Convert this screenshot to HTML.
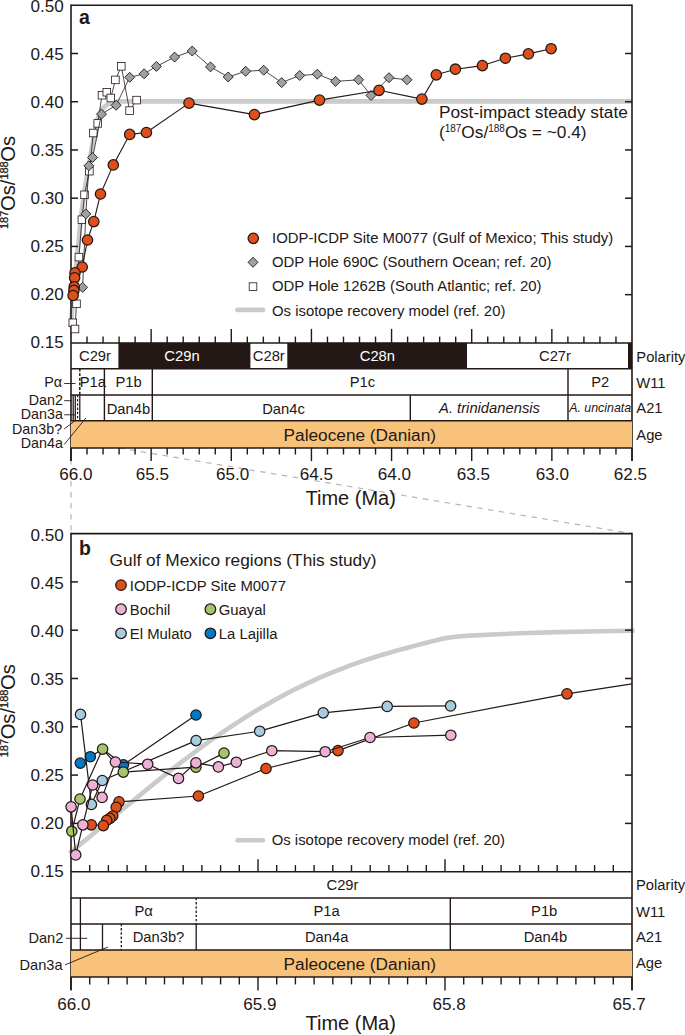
<!DOCTYPE html>
<html><head><meta charset="utf-8"><title>Os isotope recovery</title>
<style>
html,body{margin:0;padding:0;background:#fff;}
svg{display:block;font-family:'Liberation Sans', sans-serif;}
</style></head><body>
<svg width="685" height="1035" viewBox="0 0 685 1035">
<rect width="685" height="1035" fill="#fff"/>
<line x1="71.00" y1="448.00" x2="71.00" y2="533.60" stroke="#B5B5B6" stroke-width="1.2" stroke-dasharray="5.5,5.5"/>
<line x1="119.09" y1="448.00" x2="632.00" y2="533.60" stroke="#B5B5B6" stroke-width="1.2" stroke-dasharray="5.5,5.5"/>
<path d="M70.8,327 L71.8,314 L75.3,275 L78.6,242.6 L81.1,215.8 L85.1,187 L92.1,146.3 L97.3,119.7 L101.6,110.1 L104.5,106.6 L107.6,104.4 L111,102.9 L115,101.9 L121,101.3 L632.0,101.3" fill="none" stroke="#C9CACA" stroke-width="4.8" stroke-linejoin="round"/>
<path d="M71.0,5.25 H632.0" stroke="#231815" stroke-width="1.6" fill="none"/>
<line x1="71.00" y1="4.45" x2="71.00" y2="461.00" stroke="#231815" stroke-width="1.6" />
<line x1="632.00" y1="4.45" x2="632.00" y2="461.00" stroke="#231815" stroke-width="1.6" />
<text x="63.80" y="12.00" font-size="17.1" text-anchor="end" fill="#231815" >0.50</text>
<line x1="71.00" y1="53.49" x2="78.00" y2="53.49" stroke="#231815" stroke-width="1.5" />
<line x1="625.00" y1="53.49" x2="632.00" y2="53.49" stroke="#231815" stroke-width="1.5" />
<text x="63.80" y="59.95" font-size="17.1" text-anchor="end" fill="#231815" >0.45</text>
<line x1="71.00" y1="101.72" x2="78.00" y2="101.72" stroke="#231815" stroke-width="1.5" />
<line x1="625.00" y1="101.72" x2="632.00" y2="101.72" stroke="#231815" stroke-width="1.5" />
<text x="63.80" y="107.90" font-size="17.1" text-anchor="end" fill="#231815" >0.40</text>
<line x1="71.00" y1="149.96" x2="78.00" y2="149.96" stroke="#231815" stroke-width="1.5" />
<line x1="625.00" y1="149.96" x2="632.00" y2="149.96" stroke="#231815" stroke-width="1.5" />
<text x="63.80" y="155.85" font-size="17.1" text-anchor="end" fill="#231815" >0.35</text>
<line x1="71.00" y1="198.19" x2="78.00" y2="198.19" stroke="#231815" stroke-width="1.5" />
<line x1="625.00" y1="198.19" x2="632.00" y2="198.19" stroke="#231815" stroke-width="1.5" />
<text x="63.80" y="203.80" font-size="17.1" text-anchor="end" fill="#231815" >0.30</text>
<line x1="71.00" y1="246.43" x2="78.00" y2="246.43" stroke="#231815" stroke-width="1.5" />
<line x1="625.00" y1="246.43" x2="632.00" y2="246.43" stroke="#231815" stroke-width="1.5" />
<text x="63.80" y="251.75" font-size="17.1" text-anchor="end" fill="#231815" >0.25</text>
<line x1="71.00" y1="294.66" x2="78.00" y2="294.66" stroke="#231815" stroke-width="1.5" />
<line x1="625.00" y1="294.66" x2="632.00" y2="294.66" stroke="#231815" stroke-width="1.5" />
<text x="63.80" y="299.70" font-size="17.1" text-anchor="end" fill="#231815" >0.20</text>
<text x="63.80" y="347.65" font-size="17.1" text-anchor="end" fill="#231815" >0.15</text>
<g transform="translate(15.0,229.0) rotate(-90)" fill="#231815">
<text transform="translate(0.00,-6.9) scale(1.0,1)" font-size="11.0" stroke="#231815" stroke-width="0.3">187</text>
<text x="17.95" y="0" font-size="20.2">Os/</text>
<text transform="translate(49.38,-6.9) scale(1.0,1)" font-size="11.0" stroke="#231815" stroke-width="0.3">188</text>
<text x="67.33" y="0" font-size="20.2">Os</text>
</g>
<text x="79.00" y="24.20" font-size="19.5" text-anchor="start" fill="#231815" font-weight="bold">a</text>
<text x="438.90" y="118.40" font-size="17.25" text-anchor="start" fill="#231815" >Post-impact steady state</text>
<text x="438.9" y="138.3" font-size="17.3" fill="#231815">(<tspan font-size="10" dy="-6">187</tspan><tspan dy="6">Os/</tspan><tspan font-size="10" dy="-6">188</tspan><tspan dy="6">Os = ~0.4)</tspan></text>
<circle cx="253.3" cy="238.3" r="5.2" fill="#DD4F1B" stroke="#231815" stroke-width="1.25"/>
<path d="M253.0,257.3 L258.0,262.3 L253.0,267.3 L248.0,262.3 Z" fill="#9FA0A0" stroke="#231815" stroke-width="0.9"/>
<rect x="249.2" y="282.8" width="7.6" height="7.6" fill="#fff" stroke="#231815" stroke-width="0.8"/>
<line x1="237.5" y1="309.9" x2="263" y2="309.9" stroke="#C9CACA" stroke-width="4.6" stroke-linecap="round"/>
<text x="272.00" y="242.80" font-size="14.9" text-anchor="start" fill="#231815" >IODP-ICDP Site M0077 (Gulf of Mexico; This study)</text>
<text x="272.00" y="266.90" font-size="14.9" text-anchor="start" fill="#231815" >ODP Hole 690C (Southern Ocean; ref. 20)</text>
<text x="272.00" y="291.20" font-size="14.9" text-anchor="start" fill="#231815" >ODP Hole 1262B (South Atlantic; ref. 20)</text>
<text x="272.00" y="315.60" font-size="14.9" text-anchor="start" fill="#231815" >Os isotope recovery model (ref. 20)</text>
<rect x="71.0" y="420.8" width="561.0" height="27.099999999999966" fill="#F8C27A"/>
<rect x="118.4" y="342.9" width="132.0" height="25.80000000000001" fill="#231815"/>
<rect x="287.3" y="342.9" width="179.7" height="25.80000000000001" fill="#231815"/>
<rect x="628" y="342.9" width="4.0" height="25.80000000000001" fill="#231815"/>
<line x1="71.00" y1="342.90" x2="632.00" y2="342.90" stroke="#231815" stroke-width="1.5" />
<line x1="71.00" y1="368.70" x2="632.00" y2="368.70" stroke="#231815" stroke-width="1.5" />
<line x1="71.00" y1="394.90" x2="632.00" y2="394.90" stroke="#231815" stroke-width="1.5" />
<line x1="71.00" y1="420.80" x2="632.00" y2="420.80" stroke="#231815" stroke-width="1.5" />
<line x1="71.00" y1="447.90" x2="632.00" y2="447.90" stroke="#231815" stroke-width="1.5" />
<line x1="71.00" y1="447.90" x2="71.00" y2="461.10" stroke="#231815" stroke-width="1.4" />
<text x="75.80" y="480.00" font-size="17.1" text-anchor="middle" fill="#231815" >66.0</text>
<line x1="87.03" y1="342.90" x2="87.03" y2="336.60" stroke="#231815" stroke-width="1.4" />
<line x1="87.03" y1="447.90" x2="87.03" y2="454.50" stroke="#231815" stroke-width="1.4" />
<line x1="103.06" y1="342.90" x2="103.06" y2="336.60" stroke="#231815" stroke-width="1.4" />
<line x1="103.06" y1="447.90" x2="103.06" y2="454.50" stroke="#231815" stroke-width="1.4" />
<line x1="119.09" y1="342.90" x2="119.09" y2="336.60" stroke="#231815" stroke-width="1.4" />
<line x1="119.09" y1="447.90" x2="119.09" y2="454.50" stroke="#231815" stroke-width="1.4" />
<line x1="135.11" y1="342.90" x2="135.11" y2="336.60" stroke="#231815" stroke-width="1.4" />
<line x1="135.11" y1="447.90" x2="135.11" y2="454.50" stroke="#231815" stroke-width="1.4" />
<line x1="151.14" y1="342.90" x2="151.14" y2="328.90" stroke="#231815" stroke-width="1.4" />
<line x1="151.14" y1="447.90" x2="151.14" y2="461.10" stroke="#231815" stroke-width="1.4" />
<text x="152.40" y="480.00" font-size="17.1" text-anchor="middle" fill="#231815" >65.5</text>
<line x1="167.17" y1="342.90" x2="167.17" y2="336.60" stroke="#231815" stroke-width="1.4" />
<line x1="167.17" y1="447.90" x2="167.17" y2="454.50" stroke="#231815" stroke-width="1.4" />
<line x1="183.20" y1="342.90" x2="183.20" y2="336.60" stroke="#231815" stroke-width="1.4" />
<line x1="183.20" y1="447.90" x2="183.20" y2="454.50" stroke="#231815" stroke-width="1.4" />
<line x1="199.23" y1="342.90" x2="199.23" y2="336.60" stroke="#231815" stroke-width="1.4" />
<line x1="199.23" y1="447.90" x2="199.23" y2="454.50" stroke="#231815" stroke-width="1.4" />
<line x1="215.26" y1="342.90" x2="215.26" y2="336.60" stroke="#231815" stroke-width="1.4" />
<line x1="215.26" y1="447.90" x2="215.26" y2="454.50" stroke="#231815" stroke-width="1.4" />
<line x1="231.29" y1="342.90" x2="231.29" y2="328.90" stroke="#231815" stroke-width="1.4" />
<line x1="231.29" y1="447.90" x2="231.29" y2="461.10" stroke="#231815" stroke-width="1.4" />
<text x="232.60" y="480.00" font-size="17.1" text-anchor="middle" fill="#231815" >65.0</text>
<line x1="247.31" y1="342.90" x2="247.31" y2="336.60" stroke="#231815" stroke-width="1.4" />
<line x1="247.31" y1="447.90" x2="247.31" y2="454.50" stroke="#231815" stroke-width="1.4" />
<line x1="263.34" y1="342.90" x2="263.34" y2="336.60" stroke="#231815" stroke-width="1.4" />
<line x1="263.34" y1="447.90" x2="263.34" y2="454.50" stroke="#231815" stroke-width="1.4" />
<line x1="279.37" y1="342.90" x2="279.37" y2="336.60" stroke="#231815" stroke-width="1.4" />
<line x1="279.37" y1="447.90" x2="279.37" y2="454.50" stroke="#231815" stroke-width="1.4" />
<line x1="295.40" y1="342.90" x2="295.40" y2="336.60" stroke="#231815" stroke-width="1.4" />
<line x1="295.40" y1="447.90" x2="295.40" y2="454.50" stroke="#231815" stroke-width="1.4" />
<line x1="311.43" y1="342.90" x2="311.43" y2="328.90" stroke="#231815" stroke-width="1.4" />
<line x1="311.43" y1="447.90" x2="311.43" y2="461.10" stroke="#231815" stroke-width="1.4" />
<text x="316.30" y="480.00" font-size="17.1" text-anchor="middle" fill="#231815" >64.5</text>
<line x1="327.46" y1="342.90" x2="327.46" y2="336.60" stroke="#231815" stroke-width="1.4" />
<line x1="327.46" y1="447.90" x2="327.46" y2="454.50" stroke="#231815" stroke-width="1.4" />
<line x1="343.49" y1="342.90" x2="343.49" y2="336.60" stroke="#231815" stroke-width="1.4" />
<line x1="343.49" y1="447.90" x2="343.49" y2="454.50" stroke="#231815" stroke-width="1.4" />
<line x1="359.51" y1="342.90" x2="359.51" y2="336.60" stroke="#231815" stroke-width="1.4" />
<line x1="359.51" y1="447.90" x2="359.51" y2="454.50" stroke="#231815" stroke-width="1.4" />
<line x1="375.54" y1="342.90" x2="375.54" y2="336.60" stroke="#231815" stroke-width="1.4" />
<line x1="375.54" y1="447.90" x2="375.54" y2="454.50" stroke="#231815" stroke-width="1.4" />
<line x1="391.57" y1="342.90" x2="391.57" y2="328.90" stroke="#231815" stroke-width="1.4" />
<line x1="391.57" y1="447.90" x2="391.57" y2="461.10" stroke="#231815" stroke-width="1.4" />
<text x="394.50" y="480.00" font-size="17.1" text-anchor="middle" fill="#231815" >64.0</text>
<line x1="407.60" y1="342.90" x2="407.60" y2="336.60" stroke="#231815" stroke-width="1.4" />
<line x1="407.60" y1="447.90" x2="407.60" y2="454.50" stroke="#231815" stroke-width="1.4" />
<line x1="423.63" y1="342.90" x2="423.63" y2="336.60" stroke="#231815" stroke-width="1.4" />
<line x1="423.63" y1="447.90" x2="423.63" y2="454.50" stroke="#231815" stroke-width="1.4" />
<line x1="439.66" y1="342.90" x2="439.66" y2="336.60" stroke="#231815" stroke-width="1.4" />
<line x1="439.66" y1="447.90" x2="439.66" y2="454.50" stroke="#231815" stroke-width="1.4" />
<line x1="455.69" y1="342.90" x2="455.69" y2="336.60" stroke="#231815" stroke-width="1.4" />
<line x1="455.69" y1="447.90" x2="455.69" y2="454.50" stroke="#231815" stroke-width="1.4" />
<line x1="471.71" y1="342.90" x2="471.71" y2="328.90" stroke="#231815" stroke-width="1.4" />
<line x1="471.71" y1="447.90" x2="471.71" y2="461.10" stroke="#231815" stroke-width="1.4" />
<text x="473.30" y="480.00" font-size="17.1" text-anchor="middle" fill="#231815" >63.5</text>
<line x1="487.74" y1="342.90" x2="487.74" y2="336.60" stroke="#231815" stroke-width="1.4" />
<line x1="487.74" y1="447.90" x2="487.74" y2="454.50" stroke="#231815" stroke-width="1.4" />
<line x1="503.77" y1="342.90" x2="503.77" y2="336.60" stroke="#231815" stroke-width="1.4" />
<line x1="503.77" y1="447.90" x2="503.77" y2="454.50" stroke="#231815" stroke-width="1.4" />
<line x1="519.80" y1="342.90" x2="519.80" y2="336.60" stroke="#231815" stroke-width="1.4" />
<line x1="519.80" y1="447.90" x2="519.80" y2="454.50" stroke="#231815" stroke-width="1.4" />
<line x1="535.83" y1="342.90" x2="535.83" y2="336.60" stroke="#231815" stroke-width="1.4" />
<line x1="535.83" y1="447.90" x2="535.83" y2="454.50" stroke="#231815" stroke-width="1.4" />
<line x1="551.86" y1="342.90" x2="551.86" y2="328.90" stroke="#231815" stroke-width="1.4" />
<line x1="551.86" y1="447.90" x2="551.86" y2="461.10" stroke="#231815" stroke-width="1.4" />
<text x="552.50" y="480.00" font-size="17.1" text-anchor="middle" fill="#231815" >63.0</text>
<line x1="567.89" y1="342.90" x2="567.89" y2="336.60" stroke="#231815" stroke-width="1.4" />
<line x1="567.89" y1="447.90" x2="567.89" y2="454.50" stroke="#231815" stroke-width="1.4" />
<line x1="583.91" y1="342.90" x2="583.91" y2="336.60" stroke="#231815" stroke-width="1.4" />
<line x1="583.91" y1="447.90" x2="583.91" y2="454.50" stroke="#231815" stroke-width="1.4" />
<line x1="599.94" y1="342.90" x2="599.94" y2="336.60" stroke="#231815" stroke-width="1.4" />
<line x1="599.94" y1="447.90" x2="599.94" y2="454.50" stroke="#231815" stroke-width="1.4" />
<line x1="615.97" y1="342.90" x2="615.97" y2="336.60" stroke="#231815" stroke-width="1.4" />
<line x1="615.97" y1="447.90" x2="615.97" y2="454.50" stroke="#231815" stroke-width="1.4" />
<line x1="632.00" y1="447.90" x2="632.00" y2="461.10" stroke="#231815" stroke-width="1.4" />
<text x="630.40" y="480.00" font-size="17.1" text-anchor="middle" fill="#231815" >62.5</text>
<text x="350.70" y="504.90" font-size="20.0" text-anchor="middle" fill="#231815" >Time (Ma)</text>
<line x1="104.40" y1="368.70" x2="104.40" y2="394.90" stroke="#231815" stroke-width="1.4" />
<line x1="152.30" y1="368.70" x2="152.30" y2="394.90" stroke="#231815" stroke-width="1.4" />
<line x1="568.00" y1="368.70" x2="568.00" y2="420.80" stroke="#231815" stroke-width="1.4" />
<line x1="79.80" y1="368.70" x2="79.80" y2="394.90" stroke="#231815" stroke-width="1.5" stroke-dasharray="2.8,1.8"/>
<line x1="73.20" y1="394.90" x2="73.20" y2="420.80" stroke="#231815" stroke-width="1.25" />
<line x1="75.30" y1="394.90" x2="75.30" y2="420.80" stroke="#231815" stroke-width="1.25" />
<line x1="79.80" y1="394.90" x2="79.80" y2="420.80" stroke="#231815" stroke-width="1.25" />
<line x1="104.40" y1="394.90" x2="104.40" y2="420.80" stroke="#231815" stroke-width="1.4" />
<line x1="152.30" y1="394.90" x2="152.30" y2="420.80" stroke="#231815" stroke-width="1.4" />
<line x1="410.30" y1="394.90" x2="410.30" y2="420.80" stroke="#231815" stroke-width="1.4" />
<line x1="77.60" y1="394.90" x2="77.60" y2="420.80" stroke="#231815" stroke-width="1.2" stroke-dasharray="2.4,1.8"/>
<text x="95.00" y="360.80" font-size="14.75" text-anchor="middle" fill="#231815" >C29r</text>
<text x="182.00" y="360.80" font-size="14.75" text-anchor="middle" fill="#fff" >C29n</text>
<text x="268.80" y="360.80" font-size="14.75" text-anchor="middle" fill="#231815" >C28r</text>
<text x="377.40" y="360.80" font-size="14.75" text-anchor="middle" fill="#fff" >C28n</text>
<text x="555.00" y="360.80" font-size="14.75" text-anchor="middle" fill="#231815" >C27r</text>
<text x="92.80" y="387.00" font-size="14.75" text-anchor="middle" fill="#231815" >P1a</text>
<text x="128.60" y="387.00" font-size="14.75" text-anchor="middle" fill="#231815" >P1b</text>
<text x="362.50" y="387.00" font-size="14.75" text-anchor="middle" fill="#231815" >P1c</text>
<text x="600.30" y="387.00" font-size="14.75" text-anchor="middle" fill="#231815" >P2</text>
<text x="128.40" y="413.60" font-size="14.75" text-anchor="middle" fill="#231815" >Dan4b</text>
<text x="283.50" y="413.60" font-size="14.75" text-anchor="middle" fill="#231815" >Dan4c</text>
<text x="489.50" y="413.40" font-size="14.75" text-anchor="middle" fill="#231815" font-style="italic">A. trinidanensis</text>
<text x="600.20" y="411.80" font-size="12.4" text-anchor="middle" fill="#231815" font-style="italic">A. uncinata</text>
<text x="359.80" y="440.70" font-size="17.25" text-anchor="middle" fill="#231815" >Paleocene (Danian)</text>
<text x="636.30" y="362.10" font-size="14.75" text-anchor="start" fill="#231815" >Polarity</text>
<text x="636.30" y="387.90" font-size="14.75" text-anchor="start" fill="#231815" >W11</text>
<text x="636.30" y="413.30" font-size="14.75" text-anchor="start" fill="#231815" >A21</text>
<text x="636.30" y="439.80" font-size="14.75" text-anchor="start" fill="#231815" >Age</text>
<text x="62.00" y="386.70" font-size="14.3" text-anchor="end" fill="#231815" >Pα</text>
<text x="62.90" y="405.20" font-size="14.3" text-anchor="end" fill="#231815" >Dan2</text>
<text x="62.90" y="419.10" font-size="14.3" text-anchor="end" fill="#231815" >Dan3a</text>
<text x="62.10" y="433.80" font-size="14.3" text-anchor="end" fill="#231815" >Dan3b?</text>
<text x="62.90" y="447.70" font-size="14.3" text-anchor="end" fill="#231815" >Dan4a</text>
<line x1="64.20" y1="383.50" x2="75.50" y2="383.50" stroke="#231815" stroke-width="0.9" />
<line x1="64.20" y1="400.70" x2="72.00" y2="400.70" stroke="#231815" stroke-width="0.9" />
<line x1="64.20" y1="414.80" x2="75.00" y2="414.80" stroke="#231815" stroke-width="0.9" />
<line x1="64.20" y1="428.90" x2="75.50" y2="420.40" stroke="#231815" stroke-width="0.9" />
<line x1="64.20" y1="444.50" x2="85.90" y2="418.00" stroke="#231815" stroke-width="0.9" />
<polyline points="69.5,853.0 77.5,846.6 85.5,840.1 93.5,833.5 101.5,826.9 109.5,820.3 117.5,813.6 125.5,807.0 133.5,800.4 141.5,793.9 149.5,787.3 157.5,780.9 165.5,774.5 173.5,768.3 181.5,762.1 189.5,756.0 197.5,750.1 205.5,744.2 213.5,738.5 221.5,733.0 229.5,727.6 237.5,722.3 245.5,717.2 253.5,712.3 261.5,707.5 269.5,702.9 277.5,698.4 285.5,694.1 293.5,690.0 301.5,686.1 309.5,682.3 317.5,678.7 325.5,675.2 333.5,671.9 341.5,668.8 349.5,665.7 357.5,662.9 365.5,660.1 373.5,657.5 381.5,655.0 389.5,652.7 397.5,650.4 405.5,648.2 413.5,646.1 421.5,644.0 429.5,642.0 437.5,640.1 445.5,638.1 451.6,637.3 458.0,636.5 469.2,635.6 498.4,634.2 527.6,633.0 556.8,632.1 586.0,631.5 615.2,631.0 634.5,630.7" fill="none" stroke="#C9CACA" stroke-width="4.6" stroke-linejoin="round"/>
<path d="M71.0,533.6 H632.0" stroke="#231815" stroke-width="1.6" fill="none"/>
<line x1="71.00" y1="532.80" x2="71.00" y2="990.00" stroke="#231815" stroke-width="1.6" />
<line x1="632.00" y1="532.80" x2="632.00" y2="990.00" stroke="#231815" stroke-width="1.6" />
<text x="63.80" y="541.20" font-size="17.1" text-anchor="end" fill="#231815" >0.50</text>
<line x1="71.00" y1="581.90" x2="78.00" y2="581.90" stroke="#231815" stroke-width="1.5" />
<line x1="625.00" y1="581.90" x2="632.00" y2="581.90" stroke="#231815" stroke-width="1.5" />
<text x="63.80" y="589.13" font-size="17.1" text-anchor="end" fill="#231815" >0.45</text>
<line x1="71.00" y1="630.20" x2="78.00" y2="630.20" stroke="#231815" stroke-width="1.5" />
<line x1="625.00" y1="630.20" x2="632.00" y2="630.20" stroke="#231815" stroke-width="1.5" />
<text x="63.80" y="637.06" font-size="17.1" text-anchor="end" fill="#231815" >0.40</text>
<line x1="71.00" y1="678.50" x2="78.00" y2="678.50" stroke="#231815" stroke-width="1.5" />
<line x1="625.00" y1="678.50" x2="632.00" y2="678.50" stroke="#231815" stroke-width="1.5" />
<text x="63.80" y="684.99" font-size="17.1" text-anchor="end" fill="#231815" >0.35</text>
<line x1="71.00" y1="726.80" x2="78.00" y2="726.80" stroke="#231815" stroke-width="1.5" />
<line x1="625.00" y1="726.80" x2="632.00" y2="726.80" stroke="#231815" stroke-width="1.5" />
<text x="63.80" y="732.92" font-size="17.1" text-anchor="end" fill="#231815" >0.30</text>
<line x1="71.00" y1="775.10" x2="78.00" y2="775.10" stroke="#231815" stroke-width="1.5" />
<line x1="625.00" y1="775.10" x2="632.00" y2="775.10" stroke="#231815" stroke-width="1.5" />
<text x="63.80" y="780.85" font-size="17.1" text-anchor="end" fill="#231815" >0.25</text>
<line x1="71.00" y1="823.40" x2="78.00" y2="823.40" stroke="#231815" stroke-width="1.5" />
<line x1="625.00" y1="823.40" x2="632.00" y2="823.40" stroke="#231815" stroke-width="1.5" />
<text x="63.80" y="828.78" font-size="17.1" text-anchor="end" fill="#231815" >0.20</text>
<text x="63.80" y="876.71" font-size="17.1" text-anchor="end" fill="#231815" >0.15</text>
<g transform="translate(15.0,757.3) rotate(-90)" fill="#231815">
<text transform="translate(0.00,-6.9) scale(1.0,1)" font-size="11.0" stroke="#231815" stroke-width="0.3">187</text>
<text x="17.95" y="0" font-size="20.2">Os/</text>
<text transform="translate(49.38,-6.9) scale(1.0,1)" font-size="11.0" stroke="#231815" stroke-width="0.3">188</text>
<text x="67.33" y="0" font-size="20.2">Os</text>
</g>
<text x="79.00" y="555.00" font-size="19.5" text-anchor="start" fill="#231815" font-weight="bold">b</text>
<text x="109.60" y="566.10" font-size="17.3" text-anchor="start" fill="#231815" >Gulf of Mexico regions (This study)</text>
<circle cx="121.0" cy="585.1" r="5.3" fill="#DD4F1B" stroke="#231815" stroke-width="1.25"/>
<text x="129.80" y="591.00" font-size="14.9" text-anchor="start" fill="#231815" >IODP-ICDP Site M0077</text>
<circle cx="121.0" cy="609.2" r="5.3" fill="#ECB2D5" stroke="#231815" stroke-width="1.25"/>
<text x="129.80" y="615.10" font-size="14.9" text-anchor="start" fill="#231815" >Bochil</text>
<circle cx="210.4" cy="609.2" r="5.3" fill="#A5C46C" stroke="#231815" stroke-width="1.25"/>
<text x="218.70" y="615.10" font-size="14.9" text-anchor="start" fill="#231815" >Guayal</text>
<circle cx="121.0" cy="633.3" r="5.3" fill="#A4CDE0" stroke="#231815" stroke-width="1.25"/>
<text x="129.80" y="639.10" font-size="14.9" text-anchor="start" fill="#231815" >El Mulato</text>
<circle cx="210.4" cy="633.3" r="5.3" fill="#0079C6" stroke="#231815" stroke-width="1.25"/>
<text x="218.70" y="639.10" font-size="14.9" text-anchor="start" fill="#231815" >La Lajilla</text>
<line x1="237.5" y1="840.2" x2="263" y2="840.2" stroke="#C9CACA" stroke-width="4.6" stroke-linecap="round"/>
<text x="271.70" y="845.00" font-size="14.9" text-anchor="start" fill="#231815" >Os isotope recovery model (ref. 20)</text>
<rect x="71.0" y="950" width="561.0" height="26.899999999999977" fill="#F8C27A"/>
<line x1="71.00" y1="871.70" x2="632.00" y2="871.70" stroke="#231815" stroke-width="1.5" />
<line x1="71.00" y1="897.90" x2="632.00" y2="897.90" stroke="#231815" stroke-width="1.5" />
<line x1="71.00" y1="923.90" x2="632.00" y2="923.90" stroke="#231815" stroke-width="1.5" />
<line x1="71.00" y1="950.00" x2="632.00" y2="950.00" stroke="#231815" stroke-width="1.5" />
<line x1="71.00" y1="976.90" x2="632.00" y2="976.90" stroke="#231815" stroke-width="1.5" />
<line x1="71.00" y1="976.90" x2="71.00" y2="990.50" stroke="#231815" stroke-width="1.4" />
<text x="73.90" y="1009.70" font-size="17.1" text-anchor="middle" fill="#231815" >66.0</text>
<line x1="89.70" y1="871.70" x2="89.70" y2="865.10" stroke="#231815" stroke-width="1.4" />
<line x1="89.70" y1="976.90" x2="89.70" y2="984.40" stroke="#231815" stroke-width="1.4" />
<line x1="108.40" y1="871.70" x2="108.40" y2="865.10" stroke="#231815" stroke-width="1.4" />
<line x1="108.40" y1="976.90" x2="108.40" y2="984.40" stroke="#231815" stroke-width="1.4" />
<line x1="127.10" y1="871.70" x2="127.10" y2="865.10" stroke="#231815" stroke-width="1.4" />
<line x1="127.10" y1="976.90" x2="127.10" y2="984.40" stroke="#231815" stroke-width="1.4" />
<line x1="145.80" y1="871.70" x2="145.80" y2="865.10" stroke="#231815" stroke-width="1.4" />
<line x1="145.80" y1="976.90" x2="145.80" y2="984.40" stroke="#231815" stroke-width="1.4" />
<line x1="164.50" y1="871.70" x2="164.50" y2="865.10" stroke="#231815" stroke-width="1.4" />
<line x1="164.50" y1="976.90" x2="164.50" y2="984.40" stroke="#231815" stroke-width="1.4" />
<line x1="183.20" y1="871.70" x2="183.20" y2="865.10" stroke="#231815" stroke-width="1.4" />
<line x1="183.20" y1="976.90" x2="183.20" y2="984.40" stroke="#231815" stroke-width="1.4" />
<line x1="201.90" y1="871.70" x2="201.90" y2="865.10" stroke="#231815" stroke-width="1.4" />
<line x1="201.90" y1="976.90" x2="201.90" y2="984.40" stroke="#231815" stroke-width="1.4" />
<line x1="220.60" y1="871.70" x2="220.60" y2="865.10" stroke="#231815" stroke-width="1.4" />
<line x1="220.60" y1="976.90" x2="220.60" y2="984.40" stroke="#231815" stroke-width="1.4" />
<line x1="239.30" y1="871.70" x2="239.30" y2="865.10" stroke="#231815" stroke-width="1.4" />
<line x1="239.30" y1="976.90" x2="239.30" y2="984.40" stroke="#231815" stroke-width="1.4" />
<line x1="258.00" y1="871.70" x2="258.00" y2="859.20" stroke="#231815" stroke-width="1.4" />
<line x1="258.00" y1="976.90" x2="258.00" y2="990.50" stroke="#231815" stroke-width="1.4" />
<text x="259.90" y="1009.70" font-size="17.1" text-anchor="middle" fill="#231815" >65.9</text>
<line x1="276.70" y1="871.70" x2="276.70" y2="865.10" stroke="#231815" stroke-width="1.4" />
<line x1="276.70" y1="976.90" x2="276.70" y2="984.40" stroke="#231815" stroke-width="1.4" />
<line x1="295.40" y1="871.70" x2="295.40" y2="865.10" stroke="#231815" stroke-width="1.4" />
<line x1="295.40" y1="976.90" x2="295.40" y2="984.40" stroke="#231815" stroke-width="1.4" />
<line x1="314.10" y1="871.70" x2="314.10" y2="865.10" stroke="#231815" stroke-width="1.4" />
<line x1="314.10" y1="976.90" x2="314.10" y2="984.40" stroke="#231815" stroke-width="1.4" />
<line x1="332.80" y1="871.70" x2="332.80" y2="865.10" stroke="#231815" stroke-width="1.4" />
<line x1="332.80" y1="976.90" x2="332.80" y2="984.40" stroke="#231815" stroke-width="1.4" />
<line x1="351.50" y1="871.70" x2="351.50" y2="865.10" stroke="#231815" stroke-width="1.4" />
<line x1="351.50" y1="976.90" x2="351.50" y2="984.40" stroke="#231815" stroke-width="1.4" />
<line x1="370.20" y1="871.70" x2="370.20" y2="865.10" stroke="#231815" stroke-width="1.4" />
<line x1="370.20" y1="976.90" x2="370.20" y2="984.40" stroke="#231815" stroke-width="1.4" />
<line x1="388.90" y1="871.70" x2="388.90" y2="865.10" stroke="#231815" stroke-width="1.4" />
<line x1="388.90" y1="976.90" x2="388.90" y2="984.40" stroke="#231815" stroke-width="1.4" />
<line x1="407.60" y1="871.70" x2="407.60" y2="865.10" stroke="#231815" stroke-width="1.4" />
<line x1="407.60" y1="976.90" x2="407.60" y2="984.40" stroke="#231815" stroke-width="1.4" />
<line x1="426.30" y1="871.70" x2="426.30" y2="865.10" stroke="#231815" stroke-width="1.4" />
<line x1="426.30" y1="976.90" x2="426.30" y2="984.40" stroke="#231815" stroke-width="1.4" />
<line x1="445.00" y1="871.70" x2="445.00" y2="859.20" stroke="#231815" stroke-width="1.4" />
<line x1="445.00" y1="976.90" x2="445.00" y2="990.50" stroke="#231815" stroke-width="1.4" />
<text x="449.20" y="1009.70" font-size="17.1" text-anchor="middle" fill="#231815" >65.8</text>
<line x1="463.70" y1="871.70" x2="463.70" y2="865.10" stroke="#231815" stroke-width="1.4" />
<line x1="463.70" y1="976.90" x2="463.70" y2="984.40" stroke="#231815" stroke-width="1.4" />
<line x1="482.40" y1="871.70" x2="482.40" y2="865.10" stroke="#231815" stroke-width="1.4" />
<line x1="482.40" y1="976.90" x2="482.40" y2="984.40" stroke="#231815" stroke-width="1.4" />
<line x1="501.10" y1="871.70" x2="501.10" y2="865.10" stroke="#231815" stroke-width="1.4" />
<line x1="501.10" y1="976.90" x2="501.10" y2="984.40" stroke="#231815" stroke-width="1.4" />
<line x1="519.80" y1="871.70" x2="519.80" y2="865.10" stroke="#231815" stroke-width="1.4" />
<line x1="519.80" y1="976.90" x2="519.80" y2="984.40" stroke="#231815" stroke-width="1.4" />
<line x1="538.50" y1="871.70" x2="538.50" y2="865.10" stroke="#231815" stroke-width="1.4" />
<line x1="538.50" y1="976.90" x2="538.50" y2="984.40" stroke="#231815" stroke-width="1.4" />
<line x1="557.20" y1="871.70" x2="557.20" y2="865.10" stroke="#231815" stroke-width="1.4" />
<line x1="557.20" y1="976.90" x2="557.20" y2="984.40" stroke="#231815" stroke-width="1.4" />
<line x1="575.90" y1="871.70" x2="575.90" y2="865.10" stroke="#231815" stroke-width="1.4" />
<line x1="575.90" y1="976.90" x2="575.90" y2="984.40" stroke="#231815" stroke-width="1.4" />
<line x1="594.60" y1="871.70" x2="594.60" y2="865.10" stroke="#231815" stroke-width="1.4" />
<line x1="594.60" y1="976.90" x2="594.60" y2="984.40" stroke="#231815" stroke-width="1.4" />
<line x1="613.30" y1="871.70" x2="613.30" y2="865.10" stroke="#231815" stroke-width="1.4" />
<line x1="613.30" y1="976.90" x2="613.30" y2="984.40" stroke="#231815" stroke-width="1.4" />
<line x1="632.00" y1="976.90" x2="632.00" y2="990.50" stroke="#231815" stroke-width="1.4" />
<text x="629.10" y="1009.70" font-size="17.1" text-anchor="middle" fill="#231815" >65.7</text>
<text x="350.70" y="1030.40" font-size="20.0" text-anchor="middle" fill="#231815" >Time (Ma)</text>
<line x1="80.40" y1="897.90" x2="80.40" y2="950.00" stroke="#231815" stroke-width="1.3" />
<line x1="196.20" y1="897.90" x2="196.20" y2="923.90" stroke="#231815" stroke-width="1.3" stroke-dasharray="2.4,1.8"/>
<line x1="450.30" y1="897.90" x2="450.30" y2="950.00" stroke="#231815" stroke-width="1.4" />
<line x1="102.50" y1="923.90" x2="102.50" y2="950.00" stroke="#231815" stroke-width="1.3" />
<line x1="121.30" y1="923.90" x2="121.30" y2="950.00" stroke="#231815" stroke-width="1.3" stroke-dasharray="2.4,1.8"/>
<line x1="196.20" y1="923.90" x2="196.20" y2="950.00" stroke="#231815" stroke-width="1.3" />
<text x="342.50" y="890.00" font-size="14.75" text-anchor="middle" fill="#231815" >C29r</text>
<text x="143.60" y="915.60" font-size="14.75" text-anchor="middle" fill="#231815" >Pα</text>
<text x="326.50" y="915.60" font-size="14.75" text-anchor="middle" fill="#231815" >P1a</text>
<text x="544.20" y="915.60" font-size="14.75" text-anchor="middle" fill="#231815" >P1b</text>
<text x="158.50" y="941.80" font-size="14.75" text-anchor="middle" fill="#231815" >Dan3b?</text>
<text x="326.70" y="941.80" font-size="14.75" text-anchor="middle" fill="#231815" >Dan4a</text>
<text x="545.40" y="941.80" font-size="14.75" text-anchor="middle" fill="#231815" >Dan4b</text>
<text x="359.80" y="969.80" font-size="17.25" text-anchor="middle" fill="#231815" >Paleocene (Danian)</text>
<text x="636.00" y="890.40" font-size="14.75" text-anchor="start" fill="#231815" >Polarity</text>
<text x="636.00" y="916.50" font-size="14.75" text-anchor="start" fill="#231815" >W11</text>
<text x="636.00" y="942.30" font-size="14.75" text-anchor="start" fill="#231815" >A21</text>
<text x="636.00" y="968.10" font-size="14.75" text-anchor="start" fill="#231815" >Age</text>
<text x="63.30" y="942.50" font-size="14.6" text-anchor="end" fill="#231815" >Dan2</text>
<text x="62.60" y="969.50" font-size="14.6" text-anchor="end" fill="#231815" >Dan3a</text>
<line x1="65.80" y1="938.30" x2="87.30" y2="938.30" stroke="#231815" stroke-width="0.9" />
<line x1="65.00" y1="964.90" x2="108.00" y2="947.00" stroke="#231815" stroke-width="0.9" />
<polyline points="72.8,322.8 75.0,329.0 76.5,303.8 78.9,257.1 81.9,219.7 84.5,194.8 89.4,171.2 93.3,133.0 97.7,123.4 102.0,95.2 106.8,92.2 110.8,98.0 115.4,79.9 121.3,66.3 129.6,110.6 136.6,100.1" fill="none" stroke="#231815" stroke-width="0.8" stroke-linejoin="round"/>
<rect x="69.0" y="319.0" width="7.6" height="7.6" fill="#fff" stroke="#231815" stroke-width="0.8"/>
<rect x="71.2" y="325.2" width="7.6" height="7.6" fill="#fff" stroke="#231815" stroke-width="0.8"/>
<rect x="72.7" y="300.0" width="7.6" height="7.6" fill="#fff" stroke="#231815" stroke-width="0.8"/>
<rect x="75.1" y="253.3" width="7.6" height="7.6" fill="#fff" stroke="#231815" stroke-width="0.8"/>
<rect x="78.1" y="215.9" width="7.6" height="7.6" fill="#fff" stroke="#231815" stroke-width="0.8"/>
<rect x="80.7" y="191.0" width="7.6" height="7.6" fill="#fff" stroke="#231815" stroke-width="0.8"/>
<rect x="85.6" y="167.4" width="7.6" height="7.6" fill="#fff" stroke="#231815" stroke-width="0.8"/>
<rect x="89.5" y="129.2" width="7.6" height="7.6" fill="#fff" stroke="#231815" stroke-width="0.8"/>
<rect x="93.9" y="119.6" width="7.6" height="7.6" fill="#fff" stroke="#231815" stroke-width="0.8"/>
<rect x="98.2" y="91.4" width="7.6" height="7.6" fill="#fff" stroke="#231815" stroke-width="0.8"/>
<rect x="103.0" y="88.4" width="7.6" height="7.6" fill="#fff" stroke="#231815" stroke-width="0.8"/>
<rect x="107.0" y="94.2" width="7.6" height="7.6" fill="#fff" stroke="#231815" stroke-width="0.8"/>
<rect x="111.6" y="76.1" width="7.6" height="7.6" fill="#fff" stroke="#231815" stroke-width="0.8"/>
<rect x="117.5" y="62.5" width="7.6" height="7.6" fill="#fff" stroke="#231815" stroke-width="0.8"/>
<rect x="125.8" y="106.8" width="7.6" height="7.6" fill="#fff" stroke="#231815" stroke-width="0.8"/>
<rect x="132.8" y="96.3" width="7.6" height="7.6" fill="#fff" stroke="#231815" stroke-width="0.8"/>
<polyline points="82.6,287.4 85.8,213.9 88.9,165.8 92.6,157.5 101.5,114.1 116.1,105.3 129.7,77.3 144.1,73.8 156.4,66.4 174.6,57.1 192.2,51.0 210.5,66.9 228.2,77.0 245.7,71.3 263.7,70.2 281.7,82.6 299.7,75.5 317.3,74.2 335.5,81.4 358.6,79.8 371.0,95.4 389.0,77.7 407.0,79.8" fill="none" stroke="#231815" stroke-width="0.8" stroke-linejoin="round"/>
<path d="M82.6,282.4 L87.6,287.4 L82.6,292.4 L77.6,287.4 Z" fill="#9FA0A0" stroke="#231815" stroke-width="0.9"/>
<path d="M85.8,208.9 L90.8,213.9 L85.8,218.9 L80.8,213.9 Z" fill="#9FA0A0" stroke="#231815" stroke-width="0.9"/>
<path d="M88.9,160.8 L93.9,165.8 L88.9,170.8 L83.9,165.8 Z" fill="#9FA0A0" stroke="#231815" stroke-width="0.9"/>
<path d="M92.6,152.5 L97.6,157.5 L92.6,162.5 L87.6,157.5 Z" fill="#9FA0A0" stroke="#231815" stroke-width="0.9"/>
<path d="M101.5,109.1 L106.5,114.1 L101.5,119.1 L96.5,114.1 Z" fill="#9FA0A0" stroke="#231815" stroke-width="0.9"/>
<path d="M116.1,100.3 L121.1,105.3 L116.1,110.3 L111.1,105.3 Z" fill="#9FA0A0" stroke="#231815" stroke-width="0.9"/>
<path d="M129.7,72.3 L134.7,77.3 L129.7,82.3 L124.7,77.3 Z" fill="#9FA0A0" stroke="#231815" stroke-width="0.9"/>
<path d="M144.1,68.8 L149.1,73.8 L144.1,78.8 L139.1,73.8 Z" fill="#9FA0A0" stroke="#231815" stroke-width="0.9"/>
<path d="M156.4,61.4 L161.4,66.4 L156.4,71.4 L151.4,66.4 Z" fill="#9FA0A0" stroke="#231815" stroke-width="0.9"/>
<path d="M174.6,52.1 L179.6,57.1 L174.6,62.1 L169.6,57.1 Z" fill="#9FA0A0" stroke="#231815" stroke-width="0.9"/>
<path d="M192.2,46.0 L197.2,51.0 L192.2,56.0 L187.2,51.0 Z" fill="#9FA0A0" stroke="#231815" stroke-width="0.9"/>
<path d="M210.5,61.9 L215.5,66.9 L210.5,71.9 L205.5,66.9 Z" fill="#9FA0A0" stroke="#231815" stroke-width="0.9"/>
<path d="M228.2,72.0 L233.2,77.0 L228.2,82.0 L223.2,77.0 Z" fill="#9FA0A0" stroke="#231815" stroke-width="0.9"/>
<path d="M245.7,66.3 L250.7,71.3 L245.7,76.3 L240.7,71.3 Z" fill="#9FA0A0" stroke="#231815" stroke-width="0.9"/>
<path d="M263.7,65.2 L268.7,70.2 L263.7,75.2 L258.7,70.2 Z" fill="#9FA0A0" stroke="#231815" stroke-width="0.9"/>
<path d="M281.7,77.6 L286.7,82.6 L281.7,87.6 L276.7,82.6 Z" fill="#9FA0A0" stroke="#231815" stroke-width="0.9"/>
<path d="M299.7,70.5 L304.7,75.5 L299.7,80.5 L294.7,75.5 Z" fill="#9FA0A0" stroke="#231815" stroke-width="0.9"/>
<path d="M317.3,69.2 L322.3,74.2 L317.3,79.2 L312.3,74.2 Z" fill="#9FA0A0" stroke="#231815" stroke-width="0.9"/>
<path d="M335.5,76.4 L340.5,81.4 L335.5,86.4 L330.5,81.4 Z" fill="#9FA0A0" stroke="#231815" stroke-width="0.9"/>
<path d="M358.6,74.8 L363.6,79.8 L358.6,84.8 L353.6,79.8 Z" fill="#9FA0A0" stroke="#231815" stroke-width="0.9"/>
<path d="M371.0,90.4 L376.0,95.4 L371.0,100.4 L366.0,95.4 Z" fill="#9FA0A0" stroke="#231815" stroke-width="0.9"/>
<path d="M389.0,72.7 L394.0,77.7 L389.0,82.7 L384.0,77.7 Z" fill="#9FA0A0" stroke="#231815" stroke-width="0.9"/>
<path d="M407.0,74.8 L412.0,79.8 L407.0,84.8 L402.0,79.8 Z" fill="#9FA0A0" stroke="#231815" stroke-width="0.9"/>
<polyline points="73.1,295.5 73.9,290.4 74.2,286.7 74.6,277.7 75.0,272.8 82.2,267.0 87.5,240.0 93.8,221.6 100.5,194.0 113.3,164.9 129.7,134.4 146.4,132.5 189.0,103.1 254.4,114.6 319.5,100.1 379.0,90.3 421.9,99.1 436.3,74.8 455.4,69.2 482.4,65.6 505.4,58.2 528.4,53.9 551.1,48.7" fill="none" stroke="#231815" stroke-width="1.1" stroke-linejoin="round"/>
<circle cx="551.1" cy="48.7" r="5.2" fill="#DD4F1B" stroke="#231815" stroke-width="1.25"/>
<circle cx="528.4" cy="53.9" r="5.2" fill="#DD4F1B" stroke="#231815" stroke-width="1.25"/>
<circle cx="505.4" cy="58.2" r="5.2" fill="#DD4F1B" stroke="#231815" stroke-width="1.25"/>
<circle cx="482.4" cy="65.6" r="5.2" fill="#DD4F1B" stroke="#231815" stroke-width="1.25"/>
<circle cx="455.4" cy="69.2" r="5.2" fill="#DD4F1B" stroke="#231815" stroke-width="1.25"/>
<circle cx="436.3" cy="74.8" r="5.2" fill="#DD4F1B" stroke="#231815" stroke-width="1.25"/>
<circle cx="421.9" cy="99.1" r="5.2" fill="#DD4F1B" stroke="#231815" stroke-width="1.25"/>
<circle cx="379.0" cy="90.3" r="5.2" fill="#DD4F1B" stroke="#231815" stroke-width="1.25"/>
<circle cx="319.5" cy="100.1" r="5.2" fill="#DD4F1B" stroke="#231815" stroke-width="1.25"/>
<circle cx="254.4" cy="114.6" r="5.2" fill="#DD4F1B" stroke="#231815" stroke-width="1.25"/>
<circle cx="189.0" cy="103.1" r="5.2" fill="#DD4F1B" stroke="#231815" stroke-width="1.25"/>
<circle cx="146.4" cy="132.5" r="5.2" fill="#DD4F1B" stroke="#231815" stroke-width="1.25"/>
<circle cx="129.7" cy="134.4" r="5.2" fill="#DD4F1B" stroke="#231815" stroke-width="1.25"/>
<circle cx="113.3" cy="164.9" r="5.2" fill="#DD4F1B" stroke="#231815" stroke-width="1.25"/>
<circle cx="100.5" cy="194.0" r="5.2" fill="#DD4F1B" stroke="#231815" stroke-width="1.25"/>
<circle cx="93.8" cy="221.6" r="5.2" fill="#DD4F1B" stroke="#231815" stroke-width="1.25"/>
<circle cx="87.5" cy="240.0" r="5.2" fill="#DD4F1B" stroke="#231815" stroke-width="1.25"/>
<circle cx="82.2" cy="267.0" r="5.2" fill="#DD4F1B" stroke="#231815" stroke-width="1.25"/>
<circle cx="75.0" cy="272.8" r="5.2" fill="#DD4F1B" stroke="#231815" stroke-width="1.25"/>
<circle cx="74.6" cy="277.7" r="5.2" fill="#DD4F1B" stroke="#231815" stroke-width="1.25"/>
<circle cx="74.2" cy="286.7" r="5.2" fill="#DD4F1B" stroke="#231815" stroke-width="1.25"/>
<circle cx="73.9" cy="290.4" r="5.2" fill="#DD4F1B" stroke="#231815" stroke-width="1.25"/>
<circle cx="73.1" cy="295.5" r="5.2" fill="#DD4F1B" stroke="#231815" stroke-width="1.25"/>
<polyline points="80.3,763.1 90.3,756.7 102.6,749.1 123.4,764.8 196.0,715.0" fill="none" stroke="#231815" stroke-width="1.2" stroke-linejoin="round"/>
<circle cx="196.0" cy="715.0" r="5.2" fill="#0079C6" stroke="#231815" stroke-width="1.25"/>
<circle cx="123.4" cy="764.8" r="5.2" fill="#0079C6" stroke="#231815" stroke-width="1.25"/>
<circle cx="90.3" cy="756.7" r="5.2" fill="#0079C6" stroke="#231815" stroke-width="1.25"/>
<circle cx="80.3" cy="763.1" r="5.2" fill="#0079C6" stroke="#231815" stroke-width="1.25"/>
<polyline points="80.5,714.4 91.4,804.4 102.3,780.5 196.1,740.6 259.7,731.2 323.2,712.8 387.2,706.4 450.6,705.9" fill="none" stroke="#231815" stroke-width="1.2" stroke-linejoin="round"/>
<circle cx="450.6" cy="705.9" r="5.2" fill="#A4CDE0" stroke="#231815" stroke-width="1.25"/>
<circle cx="387.2" cy="706.4" r="5.2" fill="#A4CDE0" stroke="#231815" stroke-width="1.25"/>
<circle cx="323.2" cy="712.8" r="5.2" fill="#A4CDE0" stroke="#231815" stroke-width="1.25"/>
<circle cx="259.7" cy="731.2" r="5.2" fill="#A4CDE0" stroke="#231815" stroke-width="1.25"/>
<circle cx="196.1" cy="740.6" r="5.2" fill="#A4CDE0" stroke="#231815" stroke-width="1.25"/>
<circle cx="102.3" cy="780.5" r="5.2" fill="#A4CDE0" stroke="#231815" stroke-width="1.25"/>
<circle cx="91.4" cy="804.4" r="5.2" fill="#A4CDE0" stroke="#231815" stroke-width="1.25"/>
<circle cx="80.5" cy="714.4" r="5.2" fill="#A4CDE0" stroke="#231815" stroke-width="1.25"/>
<polyline points="71.8,831.2 80.0,799.0 102.6,749.1 123.3,772.1 195.9,767.2 224.0,753.1" fill="none" stroke="#231815" stroke-width="1.2" stroke-linejoin="round"/>
<circle cx="224.0" cy="753.1" r="5.2" fill="#A5C46C" stroke="#231815" stroke-width="1.25"/>
<circle cx="195.9" cy="767.2" r="5.2" fill="#A5C46C" stroke="#231815" stroke-width="1.25"/>
<circle cx="123.3" cy="772.1" r="5.2" fill="#A5C46C" stroke="#231815" stroke-width="1.25"/>
<circle cx="102.6" cy="749.1" r="5.2" fill="#A5C46C" stroke="#231815" stroke-width="1.25"/>
<circle cx="80.0" cy="799.0" r="5.2" fill="#A5C46C" stroke="#231815" stroke-width="1.25"/>
<circle cx="71.8" cy="831.2" r="5.2" fill="#A5C46C" stroke="#231815" stroke-width="1.25"/>
<polyline points="91.3,824.8 103.4,825.6 106.7,820.4 109.9,818.3 112.7,816.0 116.2,807.2 119.0,801.8 198.4,796.0 266.0,768.5 338.0,750.6 413.9,723.0 567.0,693.8 632.0,683.8" fill="none" stroke="#231815" stroke-width="1.2" stroke-linejoin="round"/>
<circle cx="567.0" cy="693.8" r="5.2" fill="#DD4F1B" stroke="#231815" stroke-width="1.25"/>
<circle cx="413.9" cy="723.0" r="5.2" fill="#DD4F1B" stroke="#231815" stroke-width="1.25"/>
<circle cx="338.0" cy="750.6" r="5.2" fill="#DD4F1B" stroke="#231815" stroke-width="1.25"/>
<circle cx="266.0" cy="768.5" r="5.2" fill="#DD4F1B" stroke="#231815" stroke-width="1.25"/>
<circle cx="198.4" cy="796.0" r="5.2" fill="#DD4F1B" stroke="#231815" stroke-width="1.25"/>
<circle cx="119.0" cy="801.8" r="5.2" fill="#DD4F1B" stroke="#231815" stroke-width="1.25"/>
<circle cx="116.2" cy="807.2" r="5.2" fill="#DD4F1B" stroke="#231815" stroke-width="1.25"/>
<circle cx="112.7" cy="816.0" r="5.2" fill="#DD4F1B" stroke="#231815" stroke-width="1.25"/>
<circle cx="109.9" cy="818.3" r="5.2" fill="#DD4F1B" stroke="#231815" stroke-width="1.25"/>
<circle cx="106.7" cy="820.4" r="5.2" fill="#DD4F1B" stroke="#231815" stroke-width="1.25"/>
<circle cx="103.4" cy="825.6" r="5.2" fill="#DD4F1B" stroke="#231815" stroke-width="1.25"/>
<circle cx="91.3" cy="824.8" r="5.2" fill="#DD4F1B" stroke="#231815" stroke-width="1.25"/>
<polyline points="71.1,806.8 75.7,854.9 82.9,824.8 92.7,785.0 102.1,797.4 115.4,762.0 147.7,764.2 178.5,778.4 195.9,762.8 218.4,766.9 236.3,762.2 271.8,750.7 325.2,751.7 370.0,737.5 450.8,735.2" fill="none" stroke="#231815" stroke-width="1.2" stroke-linejoin="round"/>
<circle cx="450.8" cy="735.2" r="5.2" fill="#ECB2D5" stroke="#231815" stroke-width="1.25"/>
<circle cx="370.0" cy="737.5" r="5.2" fill="#ECB2D5" stroke="#231815" stroke-width="1.25"/>
<circle cx="325.2" cy="751.7" r="5.2" fill="#ECB2D5" stroke="#231815" stroke-width="1.25"/>
<circle cx="271.8" cy="750.7" r="5.2" fill="#ECB2D5" stroke="#231815" stroke-width="1.25"/>
<circle cx="236.3" cy="762.2" r="5.2" fill="#ECB2D5" stroke="#231815" stroke-width="1.25"/>
<circle cx="218.4" cy="766.9" r="5.2" fill="#ECB2D5" stroke="#231815" stroke-width="1.25"/>
<circle cx="195.9" cy="762.8" r="5.2" fill="#ECB2D5" stroke="#231815" stroke-width="1.25"/>
<circle cx="178.5" cy="778.4" r="5.2" fill="#ECB2D5" stroke="#231815" stroke-width="1.25"/>
<circle cx="147.7" cy="764.2" r="5.2" fill="#ECB2D5" stroke="#231815" stroke-width="1.25"/>
<circle cx="115.4" cy="762.0" r="5.2" fill="#ECB2D5" stroke="#231815" stroke-width="1.25"/>
<circle cx="102.1" cy="797.4" r="5.2" fill="#ECB2D5" stroke="#231815" stroke-width="1.25"/>
<circle cx="92.7" cy="785.0" r="5.2" fill="#ECB2D5" stroke="#231815" stroke-width="1.25"/>
<circle cx="82.9" cy="824.8" r="5.2" fill="#ECB2D5" stroke="#231815" stroke-width="1.25"/>
<circle cx="75.7" cy="854.9" r="5.2" fill="#ECB2D5" stroke="#231815" stroke-width="1.25"/>
<circle cx="71.1" cy="806.8" r="5.2" fill="#ECB2D5" stroke="#231815" stroke-width="1.25"/>
</svg>
</body></html>
